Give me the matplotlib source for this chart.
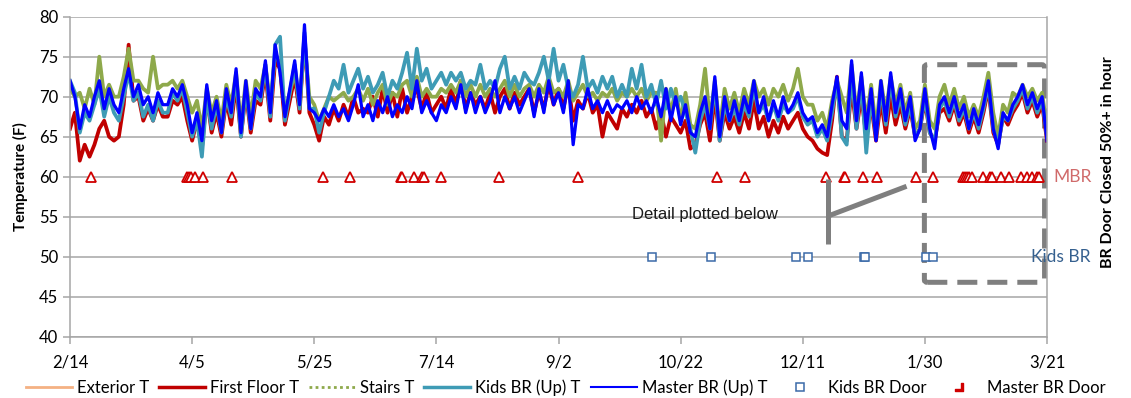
import numpy as np
import matplotlib
matplotlib.use("Agg")
import matplotlib.pyplot as plt
from matplotlib.lines import Line2D
from matplotlib.patches import FancyBboxPatch

# ---------------- data (day offsets from 2/14, every 2 days) ----------------
days = np.arange(0, 401, 2)
tick_days = [0, 50, 100, 150, 200, 250, 300, 350, 400]
tick_labels = ["2/14", "4/5", "5/25", "7/14", "9/2", "10/22", "12/11", "1/30", "3/21"]

exterior_t = []  # not within the plotted range

first_floor_t = [
    66, 68, 62, 64, 62.5, 64, 66, 67, 65, 64.5,
    65, 69, 76.5, 69.5, 70, 67, 68.5, 67, 69, 67.5,
    67.5, 69.5, 69, 70, 67, 64.5, 67, 63.5, 70, 65.5,
    68, 65, 69.5, 66.5, 71.5, 65, 70.5, 65.5, 69.5, 69,
    73, 67, 74.5, 73.5, 66.5, 69.5, 72.5, 68, 77.5, 68,
    66.5, 64.5, 67.5, 66.5, 68.5, 67, 69, 67.5, 70, 68,
    68.5, 68, 70, 67.5, 71, 68, 70.5, 67.5, 71, 68,
    70, 71, 68.5, 70.5, 68, 69, 70, 68.5, 71, 69,
    72, 68.5, 70.5, 69, 70, 68.5, 70.5, 68, 70, 71,
    68.5, 70.5, 69, 70, 71, 68, 70.5, 68.5, 71.5, 69,
    71, 68.5, 71.5, 67, 69.5, 68.5, 70.5, 68, 69, 65,
    68, 67, 66, 68.5, 67.5, 69, 68, 69.5, 67.5, 68.5,
    66, 68, 65, 67.5, 66.5, 65.5, 67, 63.5, 64, 66.5,
    68, 64.5, 70, 64.5, 68, 66, 67.5, 65.5, 68, 66,
    69.5, 66, 67.5, 65, 67, 65.5, 67.5, 66, 67, 68,
    66, 65, 64.5, 63.5, 63, 62.7, 67, 72.5, 65, 64.5,
    71, 66, 70, 65, 69, 64.5, 69.5, 65.5, 70, 66.5,
    69, 66, 68.5, 65, 66, 69.5, 65.5, 64.5, 68, 68.5,
    67, 69, 66.5, 68, 65.5, 67.5, 65.5, 68, 71, 65.5,
    64, 67.5, 66.5, 68, 69, 70.5, 68, 69.5, 67.5, 69,
    64.5]

stairs_t = [
    71, 70, 70.5, 68.5, 71, 69, 75, 70, 71.5, 70,
    70, 72.5, 76, 72, 72, 71, 70.5, 75, 71, 71.5,
    71.5, 72, 71, 72, 70, 68, 69.5, 66, 71, 68,
    70, 67, 71.5, 69, 73, 66.5, 72, 67.5, 72, 71,
    74, 69, 75.5, 74, 68, 70.5, 73, 69, 77, 70,
    69, 67, 68.5, 70, 69.5, 70, 70.5, 69.5, 70, 71,
    69.5, 71, 69, 70.5, 71.5, 69, 70.5, 70, 71.5, 72,
    70, 72.5, 70, 71, 70, 70, 71, 70.5, 71.5, 70.5,
    72, 70, 71.5, 70, 71.5, 70, 71, 70, 71, 72,
    70, 71.5, 70, 71, 71.5, 70, 71.5, 70.5, 72.5, 70.5,
    71, 70, 72, 69.5, 70.5, 71.5, 70, 70.5, 69.5, 70.5,
    70, 71, 69.5, 70.5, 70, 71, 70, 71, 69.5, 70.5,
    70.5, 64.5, 71, 68, 71, 67, 70.5, 66.5, 66, 69,
    73.5, 67, 72, 66, 71, 68.5, 70.5, 68, 71, 69,
    72, 70, 71, 69, 71, 70, 71.5, 69.5, 71, 73.5,
    70, 69, 69, 67, 68, 66, 69.5, 72, 70, 68,
    74, 68, 72.5, 67, 71.5, 66, 72, 68, 72.5, 69,
    71.5, 68, 70.5, 66, 67, 71.5, 67, 66, 70, 71.5,
    69, 71, 68.5, 70, 67.5, 69, 67.5, 70, 73, 68,
    65, 69, 68, 70.5, 70, 71.5, 70, 71, 69.5, 70.5,
    66]

kids_br_t = [
    72, 70.5, 65.5, 68, 67, 69, 71, 67.5, 70, 68,
    67, 70, 73, 69.5, 70.5, 67.5, 69, 67, 69.5, 68,
    68, 70.5, 69.5, 71, 68, 65, 67, 62.5, 70, 66,
    69, 65.5, 70, 67.5, 72.5, 65, 71, 66, 70.5, 69.5,
    74, 67.5, 76.5, 77.5, 67, 70.5, 74, 68.5, 78, 68.5,
    68.5, 65.5, 68, 70, 72, 71, 74, 70.5, 72, 73.5,
    71, 72.5, 70.5, 71.5, 73, 70, 72, 71, 73, 75.5,
    71, 76, 72, 73.5, 71, 72, 73, 71.5, 73, 72,
    73, 71, 72, 71.5, 74, 71, 72, 71, 73.5, 75,
    71, 72.5, 71, 73, 72, 71.5, 73, 75, 72, 76,
    72, 74, 71, 70, 71.5, 75, 71, 72, 70.5, 72.5,
    71, 72.5, 70, 71.5, 70, 73.5, 71, 74, 70, 71.5,
    69, 72, 68.5, 71, 69, 70, 68, 66, 63, 67,
    69, 66, 71.5, 64.5, 69, 67, 68.5, 66.5, 69, 67.5,
    71, 68, 69, 67, 69, 67, 69, 68, 68.5, 70,
    67.5, 66.5, 67, 65, 66, 64.5, 68, 72, 65, 64,
    73, 66, 72, 63, 70, 65, 71, 66.5, 72, 67.5,
    70, 66.5, 69, 65, 66, 70, 65.5, 64.5, 68.5, 69.5,
    67.5, 69.5, 67, 68.5, 66, 68, 66, 68.5, 71.5, 66,
    64, 67.5, 67, 68.5, 69.5, 71, 68.5, 70, 68, 69.5,
    65]

master_br_t = [
    72, 70, 66, 69, 67.5, 70, 72, 68.5, 71, 69,
    68, 71, 73.5, 70, 71.5, 69, 70, 68, 70.5, 69,
    69, 71, 70, 71.5, 69, 65.5, 68, 64.5, 71.5, 67,
    69.5, 65.5, 71, 68, 73.5, 65.5, 72, 66, 71, 70,
    74.5, 68, 76.5, 73, 67.5, 71, 74.5, 69, 79, 68.5,
    68, 67, 68.5, 67.5, 69, 67.5, 68.5, 67, 69, 71.5,
    67.5, 69, 67, 69.5, 68, 70, 67.5, 69, 68, 70,
    68.5, 72, 68, 69.5, 68, 67, 69, 68, 70, 68.5,
    71.5, 68, 70.5, 68, 70, 68, 69.5, 72, 68, 70,
    68.5, 70, 68, 69.5, 71, 67.5, 71, 68, 72, 69,
    70.5, 68, 72, 64, 69, 68.5, 71, 68.5, 69.5, 68,
    69.5, 68, 69, 68.5, 69.5, 68, 70, 68.5, 69.5, 68,
    70, 67.5, 71, 67, 70, 66.5, 69, 65.5, 65, 68,
    70, 66, 72.5, 65, 70, 67, 69.5, 67, 70, 68,
    72, 68, 70, 67, 69.5, 67.5, 70, 68, 69, 70.5,
    68, 67, 67.5, 65.5, 66.5, 65, 69, 72.5, 67, 66,
    74.5, 67, 73, 66, 71, 64.5, 72, 67, 73, 68,
    71, 67, 70, 64.5, 66, 71, 66, 63.5, 69, 70,
    68, 70, 67.5, 69, 66, 68.5, 66.5, 69, 72, 66,
    63.5, 68, 67, 69, 70, 71.5, 69, 70.5, 68.5, 70,
    64.5]

kids_door_days = [238.4, 262.4, 297.1, 302.1, 325.1, 325.4, 350.3, 353.3]
master_door_days = [8.6, 47.9, 48.6, 49.4, 51.3, 54.5, 66.4, 103.7, 114.8, 135.7, 136.0,
                    140.8, 144.2, 144.8, 151.9, 175.8, 207.8, 264.8, 276.4, 309.6, 316.7,
                    317.1, 324.8, 330.3, 346.3, 353.3, 365.6, 366.4, 367.3, 368.2, 369.3,
                    373.7, 376.7, 377.4, 381.1, 384.5, 389.3, 391.9, 394.0, 395.9, 396.7]
kids_door_level = 50
master_door_level = 60

# ---------------- styling ----------------
C_EXT = "#F4B183"
C_FIRST = "#C00000"
C_STAIRS = "#8EA94B"
C_KIDS = "#3E9BB5"
C_MASTER = "#0000FF"
C_KDOOR = "#3A6AA8"
C_MDOOR = "#D00000"
GRID = "#A6A6A6"

plt.rcParams["font.family"] = ["Lato", "DejaVu Sans"]

fig = plt.figure(figsize=(11.31, 3.98), dpi=100)
ax = fig.add_axes([70 / 1131, 1 - 336.7 / 398, (1047 - 70) / 1131, 320 / 398])

ax.plot(days[:len(exterior_t)], exterior_t, color=C_EXT, lw=1.8)
ax.plot(days, first_floor_t, color=C_FIRST, lw=2.7)
ax.plot(days, stairs_t, color=C_STAIRS, lw=2.7)
ax.plot(days, kids_br_t, color=C_KIDS, lw=2.7)
ax.plot(days, master_br_t, color=C_MASTER, lw=2.3)

ax.plot(kids_door_days, [kids_door_level] * len(kids_door_days), ls="none", marker="s",
        ms=5.5, mfc="white", mec=C_KDOOR, mew=1.1)
ax.plot(master_door_days, [master_door_level] * len(master_door_days), ls="none", marker="^",
        ms=6.5, mfc="white", mec=C_MDOOR, mew=1.3)

ax.set_xlim(0, 400)
ax.set_ylim(40, 80)
ax.set_yticks(range(40, 81, 5))
ax.set_xticks(tick_days)
ax.set_xticklabels(tick_labels)
ax.grid(axis="y", color=GRID, lw=1.1)
ax.set_axisbelow(True)
for s in ["left", "bottom", "right"]:
    ax.spines[s].set_color(GRID)
    ax.spines[s].set_linewidth(1.1)
ax.spines["top"].set_visible(False)
ax.tick_params(axis="both", colors=GRID, labelcolor="#000000", labelsize=12,
               length=5, width=1.1)
ax.tick_params(axis="x", pad=8)
ax.set_ylabel("Temperature (F)", fontsize=11, fontweight="bold", labelpad=8)

# side labels
ax.text(402.5, 60, "MBR", color="#D06A6A", fontsize=12.5, va="center", ha="left",
        clip_on=False)
ax.text(393.5, 50, "Kids BR", color="#35608F", fontsize=12.5, va="center", ha="left",
        clip_on=False)
fig.text(1108 / 1131, 1 - 162 / 398, "BR Door Closed 50%+ in hour", rotation=90,
         fontsize=11.5, fontweight="bold", ha="center", va="center")

# annotation: dashed box + connector
box = FancyBboxPatch((349.8, 46.8), 49.2, 27.2, boxstyle="round,pad=0,rounding_size=1.2",
                     fill=False, ec="#7F7F7F", lw=3.6, ls=(0, (4, 2)),
                     clip_on=False, mutation_aspect=0.25)
ax.add_patch(box)
ax.plot([310.5, 310.5], [51.6, 59.7], color="#7F7F7F", lw=3.6, solid_capstyle="butt")
ax.plot([310.5, 342.5], [55.1, 58.8], color="#7F7F7F", lw=3.6, solid_capstyle="butt")
ax.text(260, 55.3, "Detail plotted below", fontsize=12, ha="center", va="center",
        family="Liberation Sans", color="#1a1a1a")

# legend
handles = [
    Line2D([], [], color=C_EXT, lw=2),
    Line2D([], [], color=C_FIRST, lw=2.5),
    Line2D([], [], color=C_STAIRS, lw=2, ls=(0, (1, 1.2))),
    Line2D([], [], color=C_KIDS, lw=2.5),
    Line2D([], [], color=C_MASTER, lw=1.5),
    Line2D([], [], ls="none", marker="s", ms=5.5, mfc="white", mec=C_KDOOR, mew=1.1),
    Line2D([], [], ls="none", marker=r"$\lrcorner$", ms=6, color=C_MDOOR),
]
labels = ["Exterior T", "First Floor T", "Stairs T", "Kids BR (Up) T", "Master BR (Up) T",
          "Kids BR Door", "Master BR Door"]
fig.legend(handles, labels, loc="center", bbox_to_anchor=(566 / 1131, 1 - 388 / 398),
           ncol=7, frameon=False, fontsize=12, handlelength=2.75, handletextpad=0.3,
           columnspacing=0.6, borderaxespad=0, borderpad=0)

fig.savefig("out.png", dpi=100)
